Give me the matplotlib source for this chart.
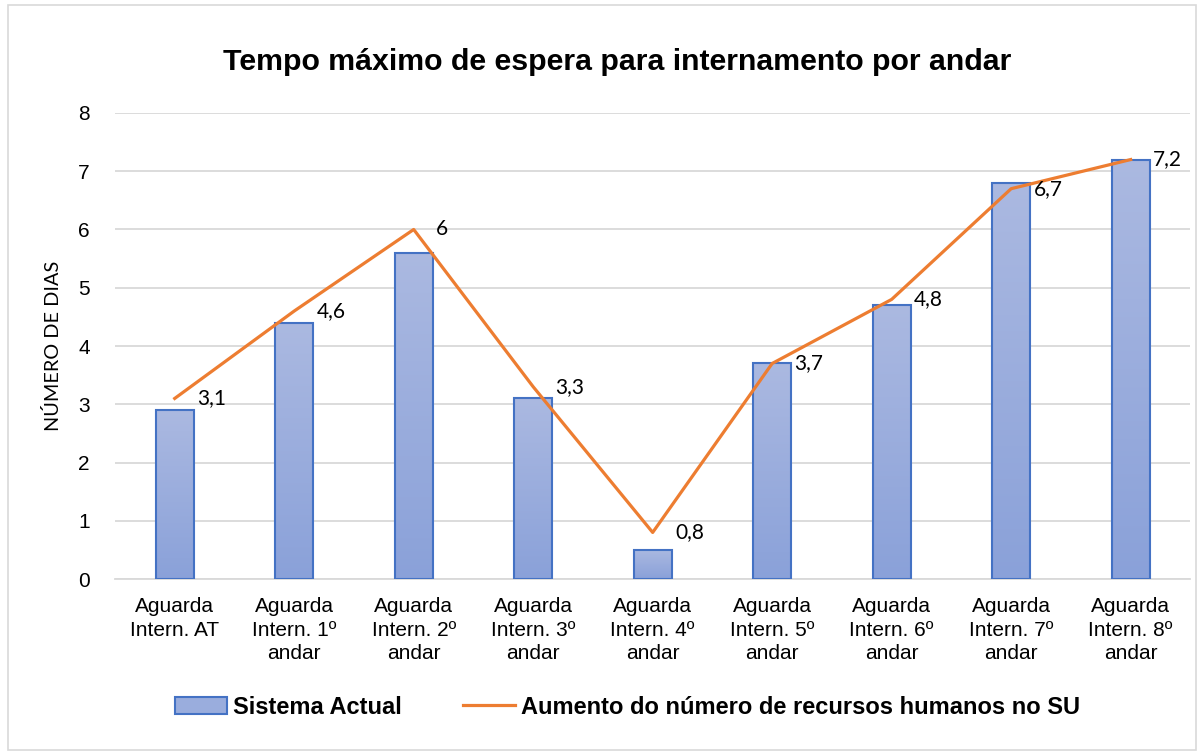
import numpy as np
import matplotlib.pyplot as plt
from matplotlib.patches import Rectangle, Patch
from matplotlib.lines import Line2D
from matplotlib.colors import LinearSegmentedColormap

categories = ['Aguarda\nIntern. AT', 'Aguarda\nIntern. 1º\nandar', 'Aguarda\nIntern. 2º\nandar',
              'Aguarda\nIntern. 3º\nandar', 'Aguarda\nIntern. 4º\nandar', 'Aguarda\nIntern. 5º\nandar',
              'Aguarda\nIntern. 6º\nandar', 'Aguarda\nIntern. 7º\nandar', 'Aguarda\nIntern. 8º\nandar']
sistema_actual = [2.9, 4.4, 5.6, 3.1, 0.5, 3.7, 4.7, 6.8, 7.2]
aumento_rh = [3.1, 4.6, 6.0, 3.3, 0.8, 3.7, 4.8, 6.7, 7.2]
labels_rh = ['3,1', '4,6', '6', '3,3', '0,8', '3,7', '4,8', '6,7', '7,2']

plt.rcParams['font.family'] = ['Liberation Sans', 'DejaVu Sans']

fig = plt.figure(figsize=(12, 7.53), dpi=100)
ax = fig.add_axes([0.0958, 0.231, 0.8962, 0.619])

# outer border of the chart area
fig.patches.append(Rectangle((0.007, 0.004), 0.99, 0.99, transform=fig.transFigure,
                             fill=False, edgecolor='#d9d9d9', linewidth=1.2))

x = np.arange(len(categories))
bw = 0.32
grad = LinearSegmentedColormap.from_list('g', ['#8aa1d9', '#abb9e1'])
gimg = np.linspace(0, 1, 256).reshape(-1, 1)

bars = ax.bar(x, sistema_actual, width=bw, facecolor='none', edgecolor='#4472c4',
              linewidth=1.5, zorder=4)
for b in bars:
    x0, h = b.get_x(), b.get_height()
    im = ax.imshow(gimg, extent=[x0, x0 + bw, 0, h], origin='lower', aspect='auto',
                   cmap=grad, zorder=3)
    im.set_clip_path(b)

ax.plot(x, aumento_rh, color='#ed7d31', linewidth=2.3, zorder=5)
for xi, yi, lab in zip(x, aumento_rh, labels_rh):
    ax.annotate(lab, (xi, yi), xytext=(16, 0), textcoords='offset points',
                ha='left', va='center', fontsize=15, family=['Lato', 'DejaVu Sans'],
                color='#000000', zorder=6)

ax.set_xlim(-0.5, len(categories) - 0.5)
ax.set_ylim(0, 8)
ax.set_yticks(range(0, 9))
ax.set_xticks(x)
ax.set_xticklabels(categories, fontsize=15, linespacing=1.3)
ax.tick_params(axis='y', labelsize=15, length=0, pad=18)
ax.tick_params(axis='x', length=0, pad=13)
ax.grid(axis='y', color='#d9d9d9', linewidth=1.3, zorder=0)
ax.set_axisbelow(True)
for s in ['top', 'right', 'left']:
    ax.spines[s].set_visible(False)
ax.spines['bottom'].set_color('#d9d9d9')
ax.spines['bottom'].set_linewidth(1.3)

ax.set_ylabel('NÚMERO DE DIAS', fontsize=14.3, family=['Lato', 'DejaVu Sans'], labelpad=12)
fig.text(0.514, 0.918, 'Tempo máximo de espera para internamento por andar',
         ha='center', va='center', fontsize=21.8, fontweight='bold')

handles = [Patch(facecolor='#9aaddd', edgecolor='#4472c4', linewidth=1.5),
           Line2D([0], [0], color='#ed7d31', linewidth=2.3)]
fig.legend(handles, ['Sistema Actual', 'Aumento do número de recursos humanos no SU'],
           loc='center', bbox_to_anchor=(0.523, 0.061), ncol=2, frameon=False,
           prop={'size': 17, 'weight': 'bold'}, handlelength=2.2, handletextpad=0.25,
           columnspacing=2.6)

fig.savefig('out.png', dpi=100)
